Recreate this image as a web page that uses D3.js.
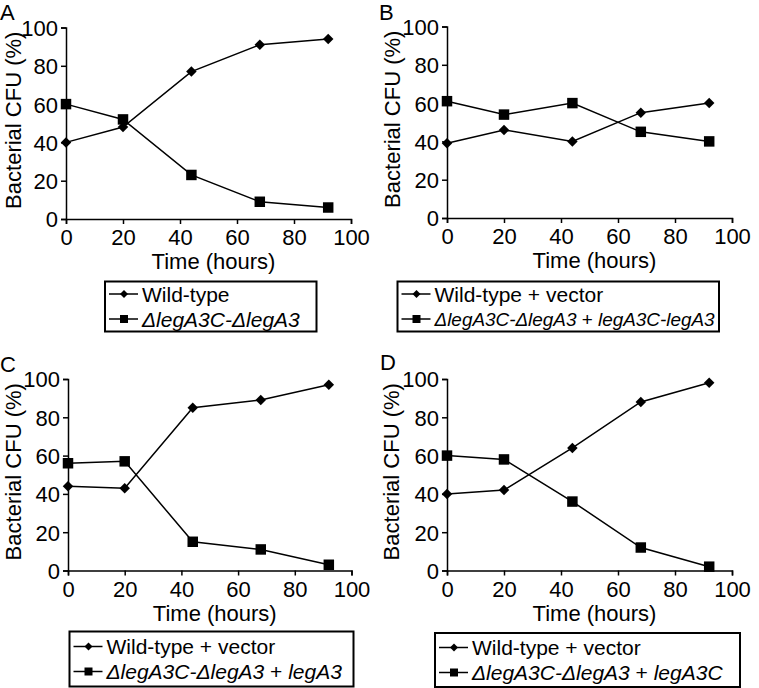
<!DOCTYPE html>
<html><head><meta charset="utf-8">
<script src="https://cdn.jsdelivr.net/npm/d3@7"></script>
<style>
body{margin:0;background:#fff;}
svg{display:block;font-family:"Liberation Sans",Arial,sans-serif;}
</style></head><body>
<svg id="chart" width="759" height="688"></svg>
<script>
const hours = [0, 20, 44, 68, 92];
const xTicks = [0, 20, 40, 60, 80, 100];
const yTicks = [0, 20, 40, 60, 80, 100];

const wildA = [40, 48, 77, 91, 94];
const mutA  = [60, 52, 23, 9, 6];
const wildB = [39, 46, 40, 55, 60];
const mutB  = [61, 54, 60, 45, 40];
const wildC = [44, 43, 85, 89, 97];
const mutC  = [56, 57, 15, 11, 3];
const wildD = [40, 42, 64, 88, 98];
const mutD  = [60, 58, 36, 12, 2];

const panelLetters = ["A", "B", "C", "D"];
const yTitle = "Bacterial CFU (%)";
const xTitle = "Time (hours)";
const legendWild = [
  [["Wild-type", false]],
  [["Wild-type + vector", false]],
  [["Wild-type + vector", false]],
  [["Wild-type + vector", false]]
];
const legendMut = [
  [["\u0394legA3C-\u0394legA3", true]],
  [["\u0394legA3C-\u0394legA3", true], [" + ", false], ["legA3C-legA3", true]],
  [["\u0394legA3C-\u0394legA3", true], [" + ", false], ["legA3", true]],
  [["\u0394legA3C-\u0394legA3", true], [" + ", false], ["legA3C", true]]
];
const wildSeries = [wildA, wildB, wildC, wildD];
const mutSeries = [mutA, mutB, mutC, mutD];

const layout = [
  {x0: 66,  x1: 351,   yT: 27.5, yB: 219,   lx: 105, ly: 281.5, lw: 211.5, lh: 50, letter: [0, 20],   ytx: 13, mutFs: 21},
  {x0: 447, x1: 732,   yT: 26.5, yB: 218,   lx: 397.5, ly: 281.5, lw: 321.5, lh: 50, letter: [379, 20], ytx: 392, mutFs: 18.9},
  {x0: 68,  x1: 351.5, yT: 379,  yB: 570.5, lx: 69.5, ly: 631.5, lw: 284, lh: 55, letter: [0, 372],  ytx: 13, mutFs: 21},
  {x0: 447, x1: 732,   yT: 379,  yB: 570.5, lx: 435, ly: 633, lw: 305, lh: 54, letter: [380, 370], ytx: 391, mutFs: 21}
];

const svg = d3.select("#chart");
const diamondType = {draw(ctx, size) {
  const r = Math.sqrt(size / 2);
  ctx.moveTo(0, -r); ctx.lineTo(r, 0); ctx.lineTo(0, r); ctx.lineTo(-r, 0); ctx.closePath();
}};
const diamond = d3.symbol().type(diamondType);
const square = d3.symbol().type(d3.symbolSquare);

layout.forEach((L, i) => {
  const g = svg.append("g");
  const x = d3.scaleLinear().domain([0, 100]).range([L.x0, L.x1]);
  const y = d3.scaleLinear().domain([0, 100]).range([L.yB, L.yT]);

  const xAxis = g.append("g").attr("transform", `translate(0,${L.yB})`)
    .call(d3.axisBottom(x).tickValues(xTicks).tickSize(5).tickPadding(3));
  const yAxis = g.append("g").attr("transform", `translate(${L.x0},0)`)
    .call(d3.axisLeft(y).tickValues(yTicks).tickSize(5).tickPadding(3));
  [xAxis, yAxis].forEach(a => {
    a.select(".domain").attr("stroke", "#000").attr("stroke-width", 1.5);
    a.selectAll(".tick line").attr("stroke", "#000").attr("stroke-width", 1.5);
    a.selectAll(".tick text").attr("fill", "#000").attr("font-size", 22)
      .attr("font-family", "Liberation Sans, Arial, sans-serif");
  });
  xAxis.selectAll(".tick text").attr("dy", "0.84em");
  yAxis.selectAll(".tick text").attr("dy", "0.36em");

  g.append("text").attr("x", (L.x0 + L.x1) / 2 + 5).attr("y", L.yB + 50)
    .attr("text-anchor", "middle").attr("font-size", 22).text(xTitle);
  g.append("text")
    .attr("transform", `translate(${L.ytx},${(L.yT + L.yB) / 2 - 3}) rotate(-90)`)
    .attr("text-anchor", "middle").attr("dy", "0.35em").attr("font-size", 22).text(yTitle);
  g.append("text").attr("x", L.letter[0]).attr("y", L.letter[1])
    .attr("font-size", 22).text(panelLetters[i]);

  const line = d3.line().x((d, j) => x(hours[j])).y(d => y(d));
  [wildSeries[i], mutSeries[i]].forEach((s, k) => {
    g.append("path").datum(s).attr("d", line).attr("fill", "none")
      .attr("stroke", "#000").attr("stroke-width", 1.5);
    g.selectAll(null).data(s).enter().append("path")
      .attr("transform", (d, j) => `translate(${x(hours[j])},${y(d)})`)
      .attr("d", k === 0 ? diamond.size(55)() : square.size(110)())
      .attr("fill", "#000");
  });

  const lg = g.append("g");
  lg.append("rect").attr("x", L.lx).attr("y", L.ly).attr("width", L.lw).attr("height", L.lh)
    .attr("fill", "none").attr("stroke", "#000").attr("stroke-width", 2);
  [legendWild[i], legendMut[i]].forEach((segs, k) => {
    const cy = L.ly + L.lh / 2 + (k === 0 ? -12.5 : 12.5);
    lg.append("line").attr("x1", L.lx + 4).attr("x2", L.lx + 33).attr("y1", cy).attr("y2", cy)
      .attr("stroke", "#000").attr("stroke-width", 1.5);
    lg.append("path").attr("transform", `translate(${L.lx + 19},${cy})`)
      .attr("d", k === 0 ? diamond.size(32)() : square.size(64)()).attr("fill", "#000");
    const t = lg.append("text").attr("x", L.lx + 37).attr("y", cy).attr("dy", "0.36em")
      .attr("font-size", k === 1 ? L.mutFs : 21).style("white-space", "pre");
    segs.forEach(([txt, it]) => {
      t.append("tspan").attr("font-style", it ? "italic" : "normal").text(txt);
    });
  });
});
</script>
</body></html>
